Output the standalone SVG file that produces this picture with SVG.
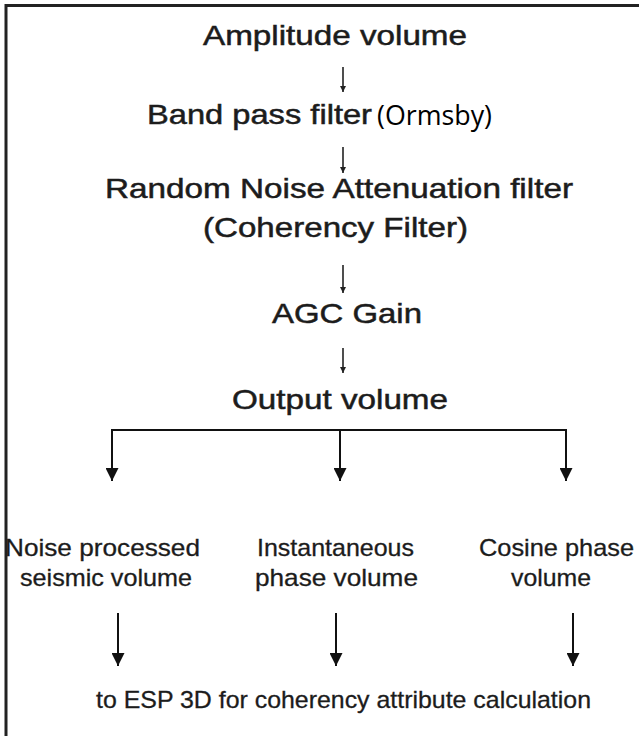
<svg xmlns="http://www.w3.org/2000/svg" width="639" height="736" viewBox="0 0 639 736">
<style>
.bg{fill:#fff}
.frame{fill:none;stroke:#222;stroke-width:3}
.t{font-family:"Liberation Sans",Arial,sans-serif;font-size:28px;fill:#1c1c1c;stroke:#1c1c1c;stroke-width:0.5}
.o{font-family:"Open Sans","Noto Sans",sans-serif;font-size:27px;fill:#000}
.l{font-family:"Liberation Sans",Arial,sans-serif;font-size:24px;fill:#1c1c1c;stroke:#1c1c1c;stroke-width:0.3}
.s{stroke:#222;stroke-width:1.6;fill:none}
.b{stroke:#111;stroke-width:2;fill:none}
</style>
<defs>
<marker id="sm" viewBox="0 0 10 10" refX="10" refY="5" markerUnits="userSpaceOnUse" markerWidth="6" markerHeight="7" orient="auto"><path d="M0,0 L10,5 L0,10 z" fill="#222"/></marker>
<marker id="bg" viewBox="0 0 10 10" refX="10" refY="5" markerUnits="userSpaceOnUse" markerWidth="17" markerHeight="13" orient="auto"><path d="M0,0 L10,5 L0,10 z" fill="#111"/></marker>
</defs>
<rect class="bg" x="0" y="0" width="639" height="736"/>
<rect class="frame" x="6" y="5.5" width="650" height="760"/>

<g id="amplitude"><text class="t" x="203" y="45" textLength="264" lengthAdjust="spacingAndGlyphs">Amplitude volume</text></g>
<g id="bandpass"><text class="t" x="147" y="124" textLength="225" lengthAdjust="spacingAndGlyphs">Band pass filter</text><text class="o" x="377" y="125" textLength="115" lengthAdjust="spacingAndGlyphs">(Ormsby)</text></g>
<g id="rna"><text class="t" x="105" y="198" textLength="468" lengthAdjust="spacingAndGlyphs">Random Noise Attenuation filter</text><text class="t" x="203" y="237" textLength="265" lengthAdjust="spacingAndGlyphs">(Coherency Filter)</text></g>
<g id="agc"><text class="t" x="272" y="323" textLength="150" lengthAdjust="spacingAndGlyphs">AGC Gain</text></g>
<g id="output"><text class="t" x="232" y="409" textLength="216" lengthAdjust="spacingAndGlyphs">Output volume</text></g>
<g id="noise"><text class="l" x="5" y="556" textLength="195" lengthAdjust="spacingAndGlyphs">Noise processed</text><text class="l" x="20" y="586" textLength="172" lengthAdjust="spacingAndGlyphs">seismic volume</text></g>
<g id="inst"><text class="l" x="257" y="556" textLength="157" lengthAdjust="spacingAndGlyphs">Instantaneous</text><text class="l" x="255" y="586" textLength="163" lengthAdjust="spacingAndGlyphs">phase  volume</text></g>
<g id="cosine"><text class="l" x="479" y="556" textLength="155" lengthAdjust="spacingAndGlyphs">Cosine phase</text><text class="l" x="511" y="586" textLength="80" lengthAdjust="spacingAndGlyphs">volume</text></g>
<g id="esp"><text class="l" x="96" y="708" textLength="495" lengthAdjust="spacingAndGlyphs">to ESP 3D for coherency attribute calculation</text></g>

<g id="connectors">
<line class="s" x1="343" y1="67" x2="343" y2="92" marker-end="url(#sm)"/>
<line class="s" x1="343" y1="147" x2="343" y2="173" marker-end="url(#sm)"/>
<line class="s" x1="343" y1="265" x2="343" y2="293" marker-end="url(#sm)"/>
<line class="s" x1="343" y1="348" x2="343" y2="373" marker-end="url(#sm)"/>
<path class="b" d="M112,480 V430 H566 V480"/>
<line class="b" x1="112" y1="430" x2="112" y2="481" marker-end="url(#bg)"/>
<line class="b" x1="340" y1="430" x2="340" y2="481" marker-end="url(#bg)"/>
<line class="b" x1="566" y1="430" x2="566" y2="481" marker-end="url(#bg)"/>
<line class="b" x1="118" y1="613" x2="118" y2="666" marker-end="url(#bg)"/>
<line class="b" x1="336" y1="613" x2="336" y2="666" marker-end="url(#bg)"/>
<line class="b" x1="573" y1="613" x2="573" y2="666" marker-end="url(#bg)"/>
</g>
</svg>
